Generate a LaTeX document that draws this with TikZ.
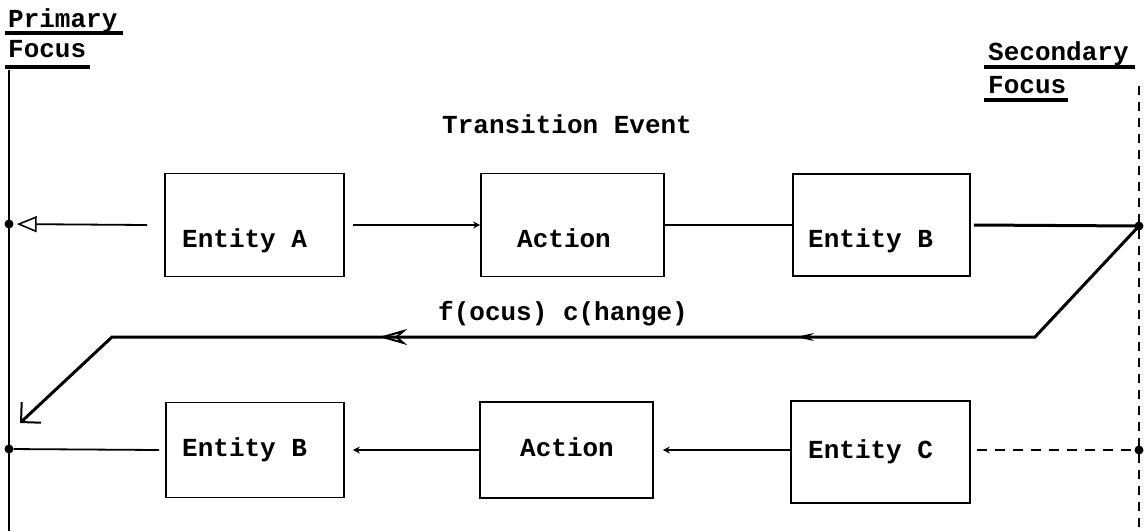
\documentclass[tikz,border=0pt]{standalone}
\usepackage{fontspec}
\setmonofont{Liberation Mono}
\usetikzlibrary{arrows.meta,decorations.markings}
\begin{document}
\begin{tikzpicture}[x=1pt,y=-1pt,
  every node/.style={font=\ttfamily\bfseries\fontsize{26}{30}\selectfont, inner sep=0pt},
  box/.style={draw, line width=1.6pt},
  conn/.style={line width=1.8pt},
  heavy/.style={line width=3pt},
  rule/.style={line width=3.2pt},
  focusline/.style={line width=1.5pt},
  dot/.style={circle, fill, minimum size=9pt, inner sep=0pt},
  lbl/.style={anchor=base west}]
\useasboundingbox (0,0) rectangle (1145,531);

% headings with underlines
\node[lbl] (prim) at (8,27) {Primary};
\node[lbl] (primf) at (8,57) {Focus};
\draw[rule] (5,33) -- (123,33);
\draw[rule] (5,67) -- (90,67);
\node[lbl] (sec) at (988,60) {Secondary};
\node[lbl] (secf) at (988,93) {Focus};
\draw[rule] (984,67) -- (1135,67);
\draw[rule] (984,100) -- (1068,100);

% focus lines
\coordinate (ptop) at (9,70);
\coordinate (pbot) at (9,531);
\coordinate (stop) at (1139,86);
\coordinate (sbot) at (1139,531);
\draw[focusline] (ptop) -- (pbot);
\draw[focusline, dash pattern=on 9pt off 7pt] (stop) -- (sbot);

\node[dot] (p1) at (9,224) {};
\node[dot] (p2) at (9,449) {};
\node[dot] (s1) at (1139,226) {};
\node[dot] (s2) at (1139,450) {};

% upper row
\node[lbl] (te) at (442,133) {Transition Event};
\node[box, minimum width=179pt, minimum height=103pt] (ea) at (254.5,225) {};
\node[box, minimum width=183pt, minimum height=103pt] (ac1) at (572.5,225) {};
\node[box, minimum width=177pt, minimum height=102pt] (eb1) at (881.5,225) {};
\node[lbl] (eat) at (182,247) {Entity A};
\node[lbl] (ac1t) at (517,247) {Action};
\node[lbl] (eb1t) at (808,247) {Entity B};

\draw[conn, -{Triangle[open, length=20pt, width=16pt, line width=1.6pt]}, shorten >=3pt]
  ([xshift=-17pt]ea.west) -- (p1);
\draw[conn, -{Stealth[length=7pt, width=7pt]}] ([xshift=8pt]ea.east) -- (ac1.west);
\draw[conn] (ac1.east) -- (eb1.west);
\draw[heavy] ([xshift=3pt]eb1.east) -- (s1.center);

% focus change loop
\node[lbl] (fc) at (438,320) {f(ocus) c(hange)};
\coordinate (bend1) at (1035,337);
\coordinate (bend2) at (112,337);
\coordinate (tip) at (20,423);
\draw[heavy, -{Straight Barb[angle=90:20pt, line width=2pt]},
  postaction={decorate, decoration={markings,
    mark=at position 391pt with {\arrow{Stealth[open, length=18pt, width=8pt, line width=1.5pt]}},
    mark=at position 808pt with {\arrow{Stealth[open, length=28pt, width=16pt, line width=2pt]}}}}]
  (s1.center) -- (bend1) -- (bend2) -- (tip);

% lower row
\node[box, minimum width=178pt, minimum height=95pt] (eb2) at (255,450) {};
\node[box, minimum width=173pt, minimum height=96pt] (ac2) at (566.5,450) {};
\node[box, minimum width=179pt, minimum height=102pt] (ec) at (880.5,452) {};
\node[lbl] (eb2t) at (182,456) {Entity B};
\node[lbl] (ac2t) at (520,456) {Action};
\node[lbl] (ect) at (808,458) {Entity C};

\draw[conn] ([xshift=-6pt]eb2.west) -- (p2);
\draw[conn, -{Stealth[length=7pt, width=7pt]}] (ac2.west) -- ([xshift=8pt]eb2.east);
\draw[conn, -{Stealth[length=7pt, width=7pt]}] (ec.west |- 0,450) -- ([xshift=9pt]ac2.east);
\draw[conn, dash pattern=on 10pt off 8pt] ([xshift=6pt]ec.east |- 0,450) -- (s2);
\end{tikzpicture}
\end{document}
